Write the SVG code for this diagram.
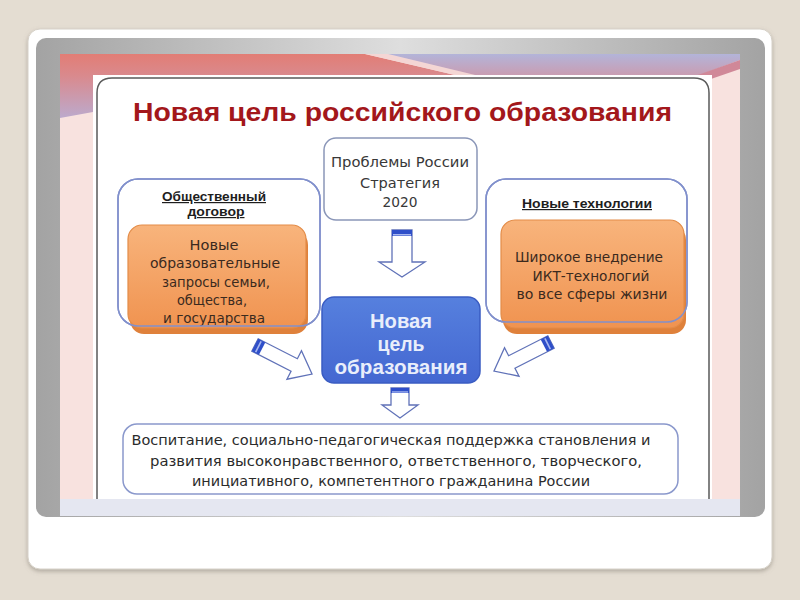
<svg xmlns="http://www.w3.org/2000/svg" width="800" height="600" viewBox="0 0 800 600">
<defs>
  <linearGradient id="gray" x1="0" y1="0" x2="1" y2="0">
    <stop offset="0" stop-color="#a3a3a3"/><stop offset="0.5" stop-color="#dedede"/><stop offset="1" stop-color="#a3a3a3"/>
  </linearGradient>
  <linearGradient id="salmon" gradientUnits="userSpaceOnUse" x1="0" y1="54" x2="0" y2="118">
    <stop offset="0" stop-color="#e27d75"/><stop offset="0.35" stop-color="#d98a8e"/><stop offset="1" stop-color="#bcaacd"/>
  </linearGradient>
  <linearGradient id="lav" x1="0" y1="0" x2="0" y2="1">
    <stop offset="0" stop-color="#b3b4d9"/><stop offset="1" stop-color="#c99db2"/>
  </linearGradient>
  <linearGradient id="orange" x1="0" y1="0" x2="0" y2="1">
    <stop offset="0" stop-color="#f8b47c"/><stop offset="1" stop-color="#f09350"/>
  </linearGradient>
  <linearGradient id="blue" x1="0" y1="0" x2="0" y2="1">
    <stop offset="0" stop-color="#5680de"/><stop offset="1" stop-color="#4467d1"/>
  </linearGradient>
  <filter id="sh" x="-5%" y="-5%" width="110%" height="115%">
    <feDropShadow dx="0" dy="2" stdDeviation="2" flood-color="#7d766a" flood-opacity="0.5"/>
  </filter>
</defs>
<style>
  .box{fill:#fff;stroke:#8190cc;stroke-width:1.5}
  .boxs{fill:none;stroke:#8190cc;stroke-width:1.5}
  .orn{fill:url(#orange);stroke:#e38c48;stroke-width:1.2}
  .orsh{fill:#df813b}
  .t{font-family:"DejaVu Sans","Liberation Sans",sans-serif;text-anchor:middle}
  .ot{font-size:14.5px;fill:#3b2a1e}
  .hd{font-family:"Liberation Sans",Arial,sans-serif;font-weight:bold;font-size:12px;text-decoration:underline;fill:#1e1e1e;text-anchor:middle}
  .arr{fill:#fff;stroke:#6072b8;stroke-width:1.3}
  .band{fill:#2f4fc9}
  .bandl{fill:#a9b8f0}
</style>

<g id="frame">
  <rect width="800" height="600" fill="#e4ddd2"/>
  <rect x="28" y="29" width="744" height="540" rx="12" fill="#fff" stroke="#d6d1c8" stroke-width="1" filter="url(#sh)"/>
  <rect x="36" y="38" width="729" height="479" rx="10" fill="url(#gray)"/>
  <rect x="60" y="54" width="680" height="462" fill="#f8e2df"/>
  <polygon points="60,54 365,54 455,75 93,75 93,112 60,118" fill="url(#salmon)"/>
  <polygon points="365,54 388,54 475,75 455,75" fill="#f4d6d4"/>
  <polygon points="388,54 740,54 740,60 700,75 475,75" fill="url(#lav)"/>
  <polygon points="740,60 740,69 708,80 695,76" fill="#d08898"/>
  <rect x="60" y="499" width="680" height="17" fill="#e5e7f1"/>
  <rect x="93" y="75" width="619" height="424" fill="#fff"/>
  <path d="M97,499 V93 Q97,78 112,78 H694 Q709,78 709,93 V499" fill="none" stroke="#5a5a5a" stroke-width="1.5"/>
</g>

<g id="title">
  <text x="402.5" y="121" font-family="Liberation Sans, Arial, sans-serif" font-weight="bold" font-size="25" fill="#a3171b" text-anchor="middle" textLength="539" lengthAdjust="spacingAndGlyphs">Новая цель российского образования</text>
</g>

<g id="node-problems">
  <rect class="box" x="324" y="138" width="153" height="82" rx="12" style="stroke:#8a96b8"/>
  <text class="t" x="400" y="167" font-size="13.5" fill="#383838" textLength="138" lengthAdjust="spacingAndGlyphs">Проблемы России</text>
  <text class="t" x="400" y="188" font-size="13.5" fill="#383838" textLength="80" lengthAdjust="spacingAndGlyphs">Стратегия</text>
  <text class="t" x="400" y="207" font-size="13.5" fill="#383838" textLength="35" lengthAdjust="spacingAndGlyphs">2020</text>
</g>

<g id="node-social">
  <rect class="box" x="118" y="179" width="202" height="147" rx="20"/>
  <text class="hd" x="214" y="201" textLength="104" lengthAdjust="spacingAndGlyphs">Общественный</text>
  <text class="hd" x="216" y="216" textLength="57" lengthAdjust="spacingAndGlyphs">договор</text>
  <rect class="orsh" x="130" y="231" width="178" height="103" rx="14"/>
  <rect class="orn" x="128" y="225" width="178" height="103" rx="14"/>
  <text class="t ot" x="214" y="250" textLength="49" lengthAdjust="spacingAndGlyphs">Новые</text>
  <text class="t ot" x="215" y="268" textLength="130" lengthAdjust="spacingAndGlyphs">образовательные</text>
  <text class="t ot" x="216" y="287" textLength="108" lengthAdjust="spacingAndGlyphs">запросы семьи,</text>
  <text class="t ot" x="212" y="305" textLength="70" lengthAdjust="spacingAndGlyphs">общества,</text>
  <text class="t ot" x="214" y="323" textLength="102" lengthAdjust="spacingAndGlyphs">и государства</text>
  <rect class="boxs" x="118" y="179" width="202" height="147" rx="20"/>
</g>

<g id="node-tech">
  <rect class="box" x="486" y="179" width="201" height="143" rx="20"/>
  <text class="hd" x="587" y="208" textLength="130" lengthAdjust="spacingAndGlyphs">Новые технологии</text>
  <rect class="orsh" x="503" y="226" width="183" height="108" rx="14"/>
  <rect class="orn" x="501" y="220" width="183" height="108" rx="14"/>
  <text class="t ot" x="589" y="262" textLength="148" lengthAdjust="spacingAndGlyphs">Широкое внедрение</text>
  <text class="t ot" x="591" y="281" textLength="117" lengthAdjust="spacingAndGlyphs">ИКТ-технологий</text>
  <text class="t ot" x="592" y="299" textLength="151" lengthAdjust="spacingAndGlyphs">во все сферы жизни</text>
  <rect class="boxs" x="486" y="179" width="201" height="143" rx="20"/>
</g>

<g id="node-goal">
  <rect x="322" y="297" width="158" height="86" rx="12" fill="url(#blue)" stroke="#3a5cc2" stroke-width="1.5"/>
  <text x="401" y="328" font-family="Liberation Sans, Arial, sans-serif" font-weight="bold" font-size="21" fill="#e9eefb" text-anchor="middle" textLength="62" lengthAdjust="spacingAndGlyphs">Новая</text>
  <text x="401" y="351" font-family="Liberation Sans, Arial, sans-serif" font-weight="bold" font-size="21" fill="#e9eefb" text-anchor="middle" textLength="47" lengthAdjust="spacingAndGlyphs">цель</text>
  <text x="401" y="374" font-family="Liberation Sans, Arial, sans-serif" font-weight="bold" font-size="21" fill="#e9eefb" text-anchor="middle" textLength="133" lengthAdjust="spacingAndGlyphs">образования</text>
</g>

<g id="node-result">
  <rect class="box" x="123" y="424" width="555" height="70" rx="14" style="stroke:#8a98cc"/>
  <text class="t" x="391" y="445" font-size="14" fill="#2b2b2b" textLength="519" lengthAdjust="spacingAndGlyphs">Воспитание, социально-педагогическая поддержка становления и</text>
  <text class="t" x="396" y="466" font-size="14" fill="#2b2b2b" textLength="492" lengthAdjust="spacingAndGlyphs">развития высоконравственного, ответственного, творческого,</text>
  <text class="t" x="391" y="486" font-size="14" fill="#2b2b2b" textLength="398" lengthAdjust="spacingAndGlyphs">инициативного, компетентного гражданина России</text>
</g>

<g id="connectors">
  <g transform="translate(402,230) rotate(90)">
    <path class="arr" d="M0,-10 H32 V-23 L47,0 L32,23 V10 H0 Z"/>
    <rect class="band" x="0" y="-10" width="6" height="20"/>
    <rect class="bandl" x="4" y="-9" width="1.5" height="18"/>
  </g>
  <g transform="translate(400,388) rotate(90)">
    <path class="arr" d="M0,-9 H17 V-18 L30,0 L17,18 V9 H0 Z"/>
    <rect class="band" x="0" y="-9" width="5" height="18"/>
    <rect class="bandl" x="3.3" y="-8" width="1.3" height="16"/>
  </g>
  <g transform="translate(255,345) rotate(27)">
    <path class="arr" d="M0,-7 H44 V-16 L64,0 L44,16 V7 H0 Z"/>
    <rect class="band" x="0" y="-7" width="8" height="14"/>
    <rect class="bandl" x="3" y="-6" width="1.6" height="12"/>
  </g>
  <g transform="translate(551,342) rotate(153)">
    <path class="arr" d="M0,-7 H44 V-16 L64,0 L44,16 V7 H0 Z"/>
    <rect class="band" x="0" y="-7" width="8" height="14"/>
    <rect class="bandl" x="3" y="-6" width="1.6" height="12"/>
  </g>
</g>
</svg>
